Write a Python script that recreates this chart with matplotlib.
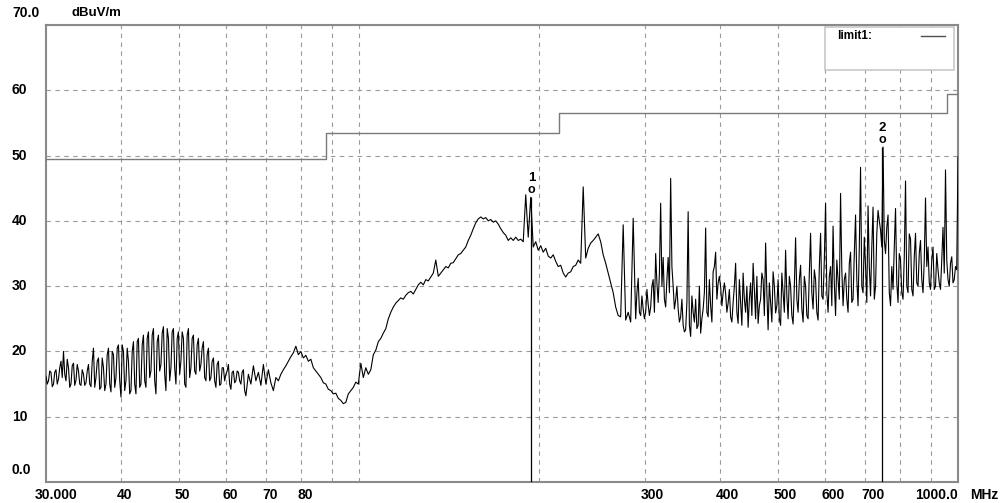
import numpy as np
import matplotlib
matplotlib.use("Agg")
import matplotlib.pyplot as plt
from matplotlib.patches import Rectangle
from matplotlib.transforms import blended_transform_factory

plt.rcParams['font.family'] = ['Liberation Sans', 'DejaVu Sans']

# scan trace, dBuV/m, on a log-spaced grid from 30 MHz to 1000 MHz
trace = [
    16.2, 15.5, 16.8, 15.0, 17.2, 15.8, 18.5, 20.0, 15.5, 17.5, 15.0, 18.2, 15.6, 17.0, 14.8, 16.5, 15.2, 18.0, 14.6, 20.5,
    16.0, 19.0, 14.5, 17.5, 15.0, 20.5, 13.8, 19.5, 16.0, 21.0, 13.0, 20.0, 15.5, 18.5, 14.0, 21.5, 13.5, 22.0, 15.0, 22.5,
    14.5, 23.0, 17.0, 23.5, 13.5, 22.5, 18.0, 23.8, 14.0, 22.0, 17.5, 23.5, 15.0, 23.0, 18.5, 22.0, 14.5, 23.5, 17.5, 22.5,
    16.5, 22.0, 18.0, 21.5, 15.5, 20.5, 16.0, 19.0, 14.5, 18.5, 15.0, 17.5, 16.5, 18.0, 14.2, 17.0, 15.5, 16.8, 15.0, 17.2,
    13.2, 16.5, 15.0, 17.8, 15.5, 16.8, 14.8, 18.0, 15.0, 17.2, 15.2, 14.0, 16.0, 15.5, 16.5, 17.2, 17.8, 18.5, 19.2, 19.8,
    20.8, 19.5, 20.0, 19.0, 19.4, 18.5, 18.8, 17.5, 17.0, 16.5, 16.0, 15.2, 15.0, 14.2, 14.0, 13.5, 13.6, 12.8, 12.5, 12.0,
    12.2, 13.5, 14.0, 14.5, 15.3, 15.0, 18.2, 16.0, 17.5, 16.5, 17.2, 19.5, 20.2, 21.5, 22.0, 22.8, 23.5, 25.0, 26.0, 26.8,
    27.4, 27.8, 28.2, 28.0, 28.6, 29.0, 29.2, 28.8, 29.5, 30.2, 30.6, 30.2, 31.0, 30.8, 31.4, 32.0, 34.0, 31.5, 32.0, 32.5,
    33.0, 32.8, 33.5, 33.6, 34.2, 34.8, 35.0, 35.5, 36.0, 37.0, 37.8, 38.8, 39.7, 40.3, 40.6, 40.3, 40.5, 40.0, 40.2, 39.8,
    40.0, 39.5, 38.8, 38.2, 37.8, 37.0, 37.4, 37.0, 37.5, 37.0, 37.2, 36.8, 44.0, 37.5, 43.6, 36.0, 36.8, 35.5, 36.2, 35.2,
    35.8, 34.6, 34.3, 34.8, 33.8, 33.0, 33.2, 32.0, 31.4, 32.0, 32.2, 33.0, 33.2, 34.0, 33.5, 45.2, 34.3, 35.8, 36.6, 37.0,
    37.5, 38.0, 36.8, 34.8, 33.5, 32.0, 30.5, 29.0, 26.8, 25.5, 25.3, 39.4, 24.8, 26.0, 24.5, 40.4, 25.0, 31.2, 25.5, 26.5,
    26.0, 27.2, 26.8, 31.0, 35.0, 27.5, 42.7, 34.4, 26.8, 34.4, 46.5, 30.0, 27.9, 26.5, 25.3, 24.0, 23.3, 41.4, 22.3, 26.0,
    28.0, 24.0, 22.8, 26.5, 38.9, 25.3, 27.0, 32.2, 35.2, 30.5, 29.9, 29.0, 28.9, 27.4, 25.3, 27.5, 33.5, 24.3, 27.5, 32.0,
    26.0, 23.7, 30.5, 33.5, 25.0, 24.3, 28.0, 31.0, 36.6, 23.3, 27.5, 32.2, 25.9, 31.0, 24.0, 29.0, 35.5, 25.0, 30.0, 24.2,
    37.4, 26.0, 33.2, 24.5, 30.0, 25.0, 38.1, 26.5, 31.0, 24.8, 38.1, 28.0, 42.7, 26.0, 33.0, 39.2, 25.5, 31.0, 44.2, 27.0,
    32.0, 26.0, 35.2, 28.0, 40.9, 27.0, 48.2, 29.0, 33.0, 42.3, 28.5, 42.1, 30.0, 41.6, 38.6, 51.3, 35.0, 40.9, 27.0, 29.5,
    41.9, 27.5, 34.0, 28.0, 46.1, 29.0, 37.2, 28.5, 38.1, 30.0, 37.0, 29.0, 43.5, 36.0, 29.5, 36.0, 30.0, 32.5, 29.5, 39.0,
    47.8, 31.0, 33.5, 30.5, 33.0, 49.8,
]

# extra readings between grid points where the trace is densest
mid_low_start = 0
mid_low = [
    15.0, 17.0, 14.6, 16.8, 15.0, 17.5, 16.0, 16.5, 18.8, 14.5, 17.8, 14.8, 18.0, 15.0, 17.2, 14.8, 17.0, 15.0, 18.5, 14.5,
    18.5, 14.2, 19.0, 14.0, 19.5, 15.0, 20.0, 14.5, 20.5, 15.5, 21.0, 14.0, 20.5, 13.5, 20.0, 15.0, 21.5, 14.5, 21.0, 15.5,
    22.0, 16.0, 22.5, 15.5, 21.5, 17.0, 22.8, 16.5, 23.5, 15.5, 23.0, 17.5, 22.0, 16.5, 23.0, 15.0, 22.5, 16.0, 22.0, 17.0,
    21.0, 17.0, 20.5, 16.0, 19.5, 15.5, 18.5, 15.5, 18.0, 14.8, 17.5, 15.5, 17.0, 15.0, 16.8, 15.2, 17.0, 15.5, 16.8, 14.0,
]
mid_high_start = 236
mid_high = [
    29.0, 26.0, 28.5, 25.0,
    29.5, 25.5, 30.0, 26.0, 30.5, 32.0, 30.0, 28.0, 31.0, 29.0, 33.0, 26.5, 30.0, 24.5, 28.0, 23.0, 27.5, 24.0, 28.5, 24.5,
    23.5, 30.0, 25.0, 29.0, 26.0, 31.0, 24.5, 33.0, 28.0, 31.5, 27.0, 30.5, 26.0, 29.5, 24.5, 30.0, 26.0, 31.0, 24.0, 28.0,
    30.0, 28.0, 25.5, 29.5, 31.5, 27.0, 32.0, 25.5, 29.0, 30.5, 24.5, 30.0, 27.0, 25.0, 32.0, 26.0, 28.5, 31.5, 25.5, 30.0,
    28.0, 31.0, 26.5, 31.5, 25.5, 32.0, 29.0, 32.5, 26.0, 33.0, 28.5, 34.0, 29.0, 31.5, 27.0, 30.5, 34.0, 28.0, 32.5, 31.0,
    28.0, 33.5, 27.5, 35.0, 31.0, 36.0, 30.0, 37.5, 27.5, 33.0, 36.0, 28.0, 38.0, 40.0, 36.0, 37.0, 39.0, 29.0, 33.0, 36.0,
    30.5, 35.0, 29.0, 34.5, 30.0, 38.0, 29.5, 34.5, 30.5, 35.0, 31.0, 34.0, 33.0, 30.5, 34.0, 29.5, 35.0, 30.5, 34.0, 32.0,
    34.0, 30.0, 34.5, 31.0, 32.5,
]

# limit1 steps
limit_freq = [30, 88, 216, 960, 1000]
limit_level = [49.5, 53.5, 56.5, 59.5, 59.5]

# markers
marker_freq = [194.0, 748.0]
marker_level = [43.6, 51.3]
marker_names = ['1', '2']

grid_freqs = [40, 50, 60, 70, 80, 90, 100, 200, 300, 400, 500, 600, 700, 800, 900]
xlabel_freqs = [40, 50, 60, 70, 80, 300, 400, 500, 600, 700]
ytick_vals = [0, 10, 20, 30, 40, 50, 60, 70]
ytick_labels = ['0.0', '10', '20', '30', '40', '50', '60', '70.0']

# merge the extra readings into the scan
freq = np.geomspace(30, 1000, len(trace))
fmid = np.sqrt(freq[:-1] * freq[1:])
fx = list(freq)
fy = list(trace)
for start, vals in ((mid_low_start, mid_low), (mid_high_start, mid_high)):
    fx += list(fmid[start:start + len(vals)])
    fy += vals
order = np.argsort(fx)
fx = np.array(fx)[order]
fy = np.array(fy)[order]

fig = plt.figure(figsize=(10.04, 5.03), dpi=100)
fig.patch.set_facecolor('white')
ax = fig.add_axes([46 / 1004, 21 / 503, 912 / 1004, 457 / 503])
ax.set_xscale('log')
ax.set_xlim(30, 1000)
ax.set_ylim(0, 70)

ax.set_xticks(grid_freqs)
ax.set_xticks([], minor=True)
ax.set_yticks(ytick_vals)
ax.tick_params(length=0, labelbottom=False, labelleft=False, which='both')
ax.grid(True, color='#9a9a9a', linestyle=(0, (4, 4)), linewidth=0.8)
ax.set_axisbelow(True)
for s in ax.spines.values():
    s.set_color('#8a8a8a')
    s.set_linewidth(1.5)

# limit line
ax.plot(limit_freq, limit_level, drawstyle='steps-post', color='#7a7a7a', lw=1.0, zorder=3)

# trace
ax.plot(fx, fy, color='black', lw=0.8, zorder=4)

# markers
ax.vlines(marker_freq, 0, marker_level, color='black', lw=0.9, zorder=5)
for f, lv, nm in zip(marker_freq, marker_level, marker_names):
    ax.annotate('o', xy=(f, lv), xytext=(0, 7), textcoords='offset pixels',
                ha='center', va='center', fontsize=9, fontweight='bold', zorder=6)
    ax.annotate(nm, xy=(f, lv), xytext=(0, 19), textcoords='offset pixels',
                ha='center', va='center', fontsize=9.5, fontweight='bold', zorder=6)

# legend box
ax.add_patch(Rectangle((0.854, 0.9015), 0.1414, 0.094, transform=ax.transAxes,
                       facecolor='white', edgecolor='#c8c8c8', lw=1.2, zorder=7))
ax.text(0.868, 0.976, 'limit1:', transform=ax.transAxes, ha='left', va='center',
        fontsize=8.5, fontweight='bold', zorder=8)
ax.plot([0.959, 0.986], [0.976, 0.976], transform=ax.transAxes, color='#505050', lw=1.0, zorder=8)

# y labels
ytr = blended_transform_factory(fig.transFigure, ax.transData)
for v, lab in zip(ytick_vals, ytick_labels):
    dy = 12 if v in (0, 70) else 0
    ax.annotate(lab, xy=(12 / 1004, v), xycoords=ytr, xytext=(0, dy), textcoords='offset pixels',
                ha='left', va='center', fontsize=10, fontweight='bold')
fig.text(72 / 1004, 1 - 13 / 503, 'dBuV/m', ha='left', va='center', fontsize=9.5, fontweight='bold')

# x labels
xtr = blended_transform_factory(ax.transData, ax.transAxes)
for f in xlabel_freqs:
    ax.annotate(str(f), xy=(f, 0), xycoords=xtr, xytext=(-4, -13), textcoords='offset pixels',
                ha='left', va='center', fontsize=10, fontweight='bold')
ax.annotate('30.000', xy=(30, 0), xycoords=xtr, xytext=(10, -13), textcoords='offset pixels',
            ha='center', va='center', fontsize=10, fontweight='bold')
ax.annotate('1000.0', xy=(1000, 0), xycoords=xtr, xytext=(0, -13), textcoords='offset pixels',
            ha='right', va='center', fontsize=10, fontweight='bold')
ax.annotate('MHz', xy=(1000, 0), xycoords=xtr, xytext=(12, -13), textcoords='offset pixels',
            ha='left', va='center', fontsize=10, fontweight='bold')

fig.savefig('out.png', dpi=100)
